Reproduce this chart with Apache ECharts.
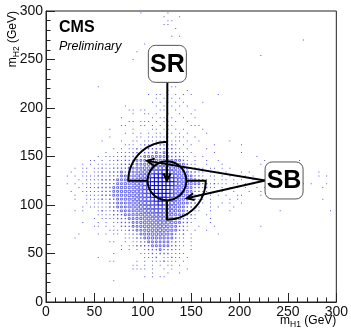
<!DOCTYPE html>
<html><head><meta charset="utf-8">
<script src="https://cdn.jsdelivr.net/npm/echarts/dist/echarts.min.js"></script>
<style>html,body{margin:0;padding:0;background:#fff}#c{width:351px;height:329px}</style>
</head><body><div id="c"></div>
<script>
// ---------------- data ----------------
const binWidth = 4;                 // GeV per bin (both axes)
const xTickValues = [0, 50, 100, 150, 200, 250, 300];
const yTickValues = [0, 50, 100, 150, 200, 250, 300];
const xTitle = ['m', 'H1', ' (GeV)'];
const yTitle = ['m', 'H2', ' (GeV)'];
// box-size level (1..9) per 4 GeV bin; row = m_H2 bin index, chars = m_H1 bins (groups of 5)
const histRows = [
 [74, "..... ..... ..... ..... ....1 ..... .1"],
 [73, "..... ..... ..... ..... ..... ..... 1...1"],
 [72, "..... ..... ..... ..... ..... ..... .11"],
 [71, "..... ..... ..... ..... ..... ..... 11"],
 [70, "..... ..... ..... ..... ..... ..... ...1"],
 [68, "..... ..... ..... ..... ..... ..... ..1.1"],
 [67, "..... ..... ..... ..... ..... ..... ..... ..... ..... ..... ..... ..... ..... .1"],
 [66, "..... ..... ..... ..... ..... 1"],
 [64, "..... ..... ..... ..... ...1"],
 [63, "..... ..... ..... ..... ..... ..... ..... ..... ..... ..... ..... 1"],
 [62, "..... ..... ..... ..... ..1"],
 [55, "..... ..... ...1. ..... ..... ..... ..11"],
 [54, "..... ..... ..... ..... ..... ..... .1... .1"],
 [53, "..... ..... ..... ..... ..... .1.11 .1.1. 1.1.. ....1"],
 [52, "..... ..... ..... ..... ..... ...1. 1.1.1"],
 [51, "..... ..... ..... ..... ..... ..1.1 .1.1. 1.... 1"],
 [50, "..... ..... ..... ..... 1.... ...1. 1.1.1 .1"],
 [49, "..... ..... ..... ..... .11.1 1...1 1..1. ...1"],
 [48, "..... ..... ..... ..... ..1.. 11.1. .1..1 ..1"],
 [47, "..... ..... ..... ....1 ..... ..1.1 1.1.. 1..1"],
 [46, "..... ..... ..... ..... .11.1 11.1. 11.1. .1"],
 [45, "..... ..... ..... ....1 1...1 1.1.1 .11.. ..111"],
 [44, "..... ..... ..... .1... ..1.. ..11. 11.1. 1.... 1"],
 [43, "..... ..... ..... ..... 1.1.1 .1.11 .11.1 .1... .1"],
 [42, "..... ..... ..... .1... ...11 .1111 11.11 1..1."],
 [41, "..... ..... ....1 ....1 ..11. 11111 11111 .1..1 ..... ..1"],
 [40, "..... ..... ..... ..... 111.1 21212 2121. 1.1.. ...1. ..... 1"],
 [39, "..... ..... ..... ..1.1 .1121 22222 22211 .1... .1"],
 [38, "..... ..... ..... 1..11 11222 22232 32221 1.1.. ...1. ..... 1"],
 [37, "..... ..... ...1. 11111 21222 33333 33222 11.1. 1.... ..... ....1"],
 [36, "..... ..... .11.1 .1121 22233 33444 44333 21.1. .1..1 ..... ..... .1... ..... 1"],
 [35, "..... ....1 .1.11 11112 22233 44556 66543 3211. .1... 1.... ..... 1"],
 [34, "..... ..1.1 1.112 11222 23344 55677 77654 33221 1.11. 1.1.. ..... ..... ..... 1"],
 [33, "..... .1..1 1.112 12223 23345 66788 98765 43221 1.1.1 .1... 1.1.. ..... ..... ..... 1"],
 [32, "..... 1.1.1 11122 12223 33456 67899 99876 54322 1.11. 1.1.1 .1.1. ..... ..1.. ..... 1.1"],
 [31, "..... ...1. 11112 22233 34456 78999 99987 65432 21.1. 11.1. 1..1. .1... ....1"],
 [30, "..... 1.1.1 11112 22233 44566 88999 99987 65433 22121 11.11 .1.1. ..1.. ..... .1.1. ..1"],
 [29, "..... ...1. 11122 22334 44567 88999 99876 54322 1211. 1.1.1 .1..1 .1... ..1.. ..... .1"],
 [28, "..... .1..1 11112 22334 45567 88999 99876 54322 11.1. 1..1. ..1.. 1.... ....1"],
 [27, "..... ..1.. 11112 22334 45567 88999 99876 54322 1.1.1 .1..1 1.... 1.1.."],
 [26, "..... ..1.. 11112 12233 44567 78899 98765 43221 1.1.. ..1.1 ..... ..... ..... ..... .1"],
 [25, "..... ..... 1.111 12233 34556 78889 88765 43221 1.1.. 1.1.. 1"],
 [24, "..... ....1 .1111 12233 34556 77888 87654 32211 ..1.1 ...1."],
 [23, "..... ..1.1 ...12 11223 33455 77788 77654 32211 ..1.. ..1.. ..... ..... 1.... ..... ...1"],
 [22, "..... ..... ...11 11222 33445 66777 76543 3221. .1..."],
 [21, "..... ..... ..1.1 11122 23344 66677 76543 2211. ..1.."],
 [20, "..... ....1 ...1. 1.112 22334 56667 66543 221.. ..1.."],
 [19, "..... ..... ..11. 1.1.2 22334 55666 65432 21..1 ...1. ..... ..... 1"],
 [18, "..... ..... ..... .1111 12233 45556 55432 21.1. .1..."],
 [17, "..... ...1. ...1. 1.11. 11223 44555 54321 2.1.. ....1"],
 [16, "..... ..1.. ..... ..... 11122 34444 43321 1.1.."],
 [15, "..... ..... ..... .11.. 1.112 23333 33221 1.1.."],
 [14, "..... ..... ..... ....1 .1122 22333 33221 1.1.."],
 [13, "..... ..... ..... ....1 .1.1. 12223 22211 ..1.."],
 [12, "..... ..... ..... ..1.. ....1 11212 22111 1"],
 [11, "..... ..... ...1. ..... ..... 1112. 11211 .1"],
 [10, "..... ..... ..... .11.. ...1. 1.111 2111. 1"],
 [9,  "..... ..... ..... ..... ..11. 1.1.1 .11.1"],
 [8,  "..... ..... ..... ..... ..111 1.1.. 1.1.. .1"],
 [7,  "..... ..... ..... ..... ..... ..1.. .1..1"],
 [6,  "..... ..... ..... ..... ..... 1.1.1 1"],
 [5,  "..... ..... ..... ..1"]
];
// annotation geometry (GeV)
const srCenter = [125, 125];
const srRadius = 20;
const sbOuterRadius = 40;
const srLabel = {text: 'SR', at: [125.4, 245.5]};
const sbLabel = {text: 'SB', at: [246, 125.3]};
const sbArrowTips = [[104.5, 145.5], [145.5, 107]];

// ---------------- build ----------------
const pts = [];
histRows.forEach(([j, s]) => {
  const str = s.replace(/ /g, '');
  for (let i = 0; i < str.length; i++) {
    const c = str[i];
    if (c >= '1' && c <= '9') pts.push([binWidth * i + binWidth / 2, binWidth * j + binWidth / 2, +c]);
  }
});
const sizeOf = l => [0, 1.0, 1.4, 1.8, 2.1, 2.4, 2.7, 3.0, 3.4, 3.93][l];
const seriesData = pts.map(p => ({
  value: p,
  symbolSize: sizeOf(p[2]),
  itemStyle: p[2] <= 2 ? {color: '#2a2ad6', borderWidth: 0}
                       : {color: 'rgba(0,0,0,0)', borderColor: p[2] >= 9 ? '#0000d8' : '#2020e0', borderWidth: p[2] >= 9 ? 1 : 0.8}
}));

const chart = echarts.init(document.getElementById('c'), null, {renderer: 'canvas'});
const FONT = '"Liberation Sans", Arial, Helvetica, sans-serif';
function axisCfg(ticks) {
  return {
    type: 'value', min: ticks[0], max: ticks[ticks.length - 1], interval: ticks[1] - ticks[0],
    axisLine: {show: true, lineStyle: {color: '#222', width: 1}},
    axisTick: {show: true, inside: true, length: 9, lineStyle: {color: '#222'}},
    minorTick: {show: true, splitNumber: 5, length: 4.5, lineStyle: {color: '#222'}},
    splitLine: {show: false},
    axisLabel: {fontFamily: FONT, fontSize: 14, color: '#111', margin: 3}
  };
}
chart.setOption({
  animation: false,
  grid: {left: 46, right: 10, top: 11, bottom: 27, show: true, borderColor: '#222', borderWidth: 1},
  xAxis: axisCfg(xTickValues),
  yAxis: axisCfg(yTickValues),
  series: [{type: 'scatter', symbol: 'rect', data: seriesData, silent: true, z: 2}]
});

const P = (x, y) => chart.convertToPixel({gridIndex: 0}, [x, y]);
const els = [];
const LW = 2;
function poly(pointsData, closed) {
  els.push({type: closed ? 'polygon' : 'polyline', z: 100, silent: true,
    shape: {points: pointsData.map(p => P(p[0], p[1]))},
    style: {stroke: '#000', lineWidth: LW, fill: null}});
}
function arc(r, a0, a1) {
  const out = [];
  const n = 60;
  for (let k = 0; k <= n; k++) {
    const a = (a0 + (a1 - a0) * k / n) * Math.PI / 180;
    out.push([srCenter[0] + r * Math.cos(a), srCenter[1] + r * Math.sin(a)]);
  }
  return out;
}
function arrow(fromPx, toPx) {
  els.push({type: 'line', z: 100, silent: true, shape: {x1: fromPx[0], y1: fromPx[1], x2: toPx[0], y2: toPx[1]},
    style: {stroke: '#000', lineWidth: LW}});
  const ang = Math.atan2(fromPx[1] - toPx[1], fromPx[0] - toPx[0]);
  const L = 8, h = 0.45;
  const a1 = [toPx[0] + L * Math.cos(ang + h), toPx[1] + L * Math.sin(ang + h)];
  const a2 = [toPx[0] + L * Math.cos(ang - h), toPx[1] + L * Math.sin(ang - h)];
  els.push({type: 'polyline', z: 100, silent: true, shape: {points: [a1, toPx, a2]},
    style: {stroke: '#000', lineWidth: LW, fill: null}});
}
// SR circle
poly(arc(srRadius, 0, 360), true);
// SB upper-left quarter annulus
poly([[srCenter[0], srCenter[1] + srRadius]].concat(arc(sbOuterRadius, 90, 180), [[srCenter[0] - srRadius, srCenter[1]]]), false);
// SB lower-right quarter annulus
poly([[srCenter[0], srCenter[1] - srRadius]].concat(arc(sbOuterRadius, 270, 360), [[srCenter[0] + srRadius, srCenter[1]]]), false);

// label boxes
const BW = 38, BH = 37;
const srC = P(srLabel.at[0], srLabel.at[1]);
const sbC = P(sbLabel.at[0], sbLabel.at[1]);
arrow([srC[0], srC[1] + BH / 2], P(srCenter[0], srCenter[1]));
sbArrowTips.forEach(t => arrow([sbC[0] - BW / 2, sbC[1]], P(t[0], t[1])));
[[srC, srLabel.text], [sbC, sbLabel.text]].forEach(([c, t]) => {
  els.push({type: 'rect', z: 110, silent: true,
    shape: {x: c[0] - BW / 2, y: c[1] - BH / 2, width: BW, height: BH, r: 7},
    style: {fill: '#fff', stroke: '#555', lineWidth: 1}});
  els.push({type: 'text', z: 111, silent: true, x: c[0], y: c[1] + 1,
    style: {text: t, font: 'bold 25px ' + FONT, fill: '#000', align: 'center', verticalAlign: 'middle'}});
});
// CMS / Preliminary
els.push({type: 'text', z: 120, silent: true, x: 59, y: 27.5,
  style: {text: 'CMS', font: 'bold 16px ' + FONT, fill: '#000', align: 'left', verticalAlign: 'middle'}});
els.push({type: 'text', z: 120, silent: true, x: 59, y: 46.5,
  style: {text: 'Preliminary', font: 'italic 12.5px ' + FONT, fill: '#000', align: 'left', verticalAlign: 'middle'}});

// axis titles with subscripts
const mctx = document.createElement('canvas').getContext('2d');
function tw(font, s) { mctx.font = font; return mctx.measureText(s).width; }
const fMain = '12px ' + FONT, fSub = '8.5px ' + FONT;
function titleGroup(parts, x, y, rotation) {
  const w0 = tw(fMain, parts[0]), w1 = tw(fSub, parts[1]), w2 = tw(fMain, parts[2]);
  const W = w0 + w1 + w2;
  const mk = (txt, f, dx, dy) => ({type: 'text', x: dx, y: dy,
    style: {text: txt, font: f, fill: '#000', align: 'left', verticalAlign: 'middle'}});
  return {type: 'group', z: 120, silent: true, x: x, y: y, rotation: rotation,
    children: [mk(parts[0], fMain, -W, 0), mk(parts[1], fSub, -W + w0, 3.5), mk(parts[2], fMain, -W + w0 + w1, 0)]};
}
const rightEdge = P(xTickValues[xTickValues.length - 1], 0)[0];
const topEdge = P(0, yTickValues[yTickValues.length - 1])[1];
els.push(titleGroup(xTitle, rightEdge, 321, 0));
els.push(titleGroup(yTitle, 13, topEdge, Math.PI / 2));

chart.setOption({graphic: {elements: els}});
</script>
</body></html>
